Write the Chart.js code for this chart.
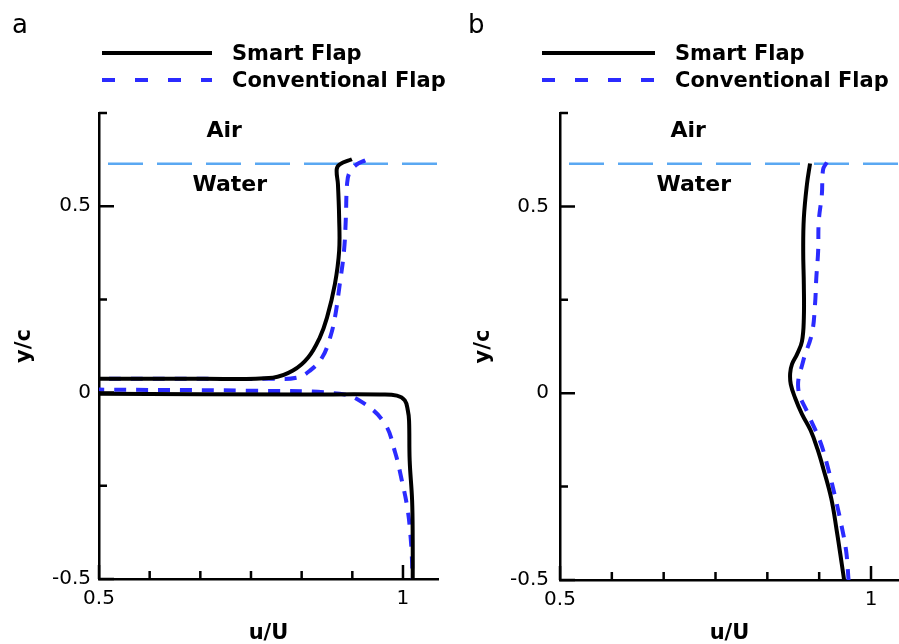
<!DOCTYPE html>
<html>
<head>
<meta charset="utf-8">
<script src="https://cdn.jsdelivr.net/npm/chart.js@4.4.1/dist/chart.umd.min.js"></script>
<style>
  body { margin: 0; background: #fff; }
  .panel { position: absolute; top: 0; height: 644px; }
  #wrapA { left: 0; width: 450px; }
  #wrapB { left: 450px; width: 449px; }
</style>
</head>
<body>
<div class="panel" id="wrapA"><canvas id="chartA"></canvas></div>
<div class="panel" id="wrapB"><canvas id="chartB"></canvas></div>
<script>
// velocity profiles: u/U (x) against y/c (y)
// panel a (values below u/U = 0.5 are the wake, outside the axis range)
const smartA_u = [0.916, 0.896, 0.891, 0.893, 0.895, 0.895, 0.888, 0.875, 0.863, 0.844, 0.819, 0.786, 0.666, 0.5, 0.40, 0.35, 0.40, 0.5, 0.831, 0.962, 0.990, 1.003, 1.008, 1.010, 1.011, 1.015, 1.016, 1.016];
const smartA_y = [0.626, 0.612, 0.599, 0.559, 0.468, 0.380, 0.291, 0.201, 0.147, 0.094, 0.059, 0.040, 0.037, 0.037, 0.032, 0.017, 0.000, -0.003, -0.005, -0.005, -0.008, -0.021, -0.048, -0.075, -0.182, -0.289, -0.396, -0.503];
const convA_u = [0.938, 0.924, 0.912, 0.908, 0.906, 0.903, 0.896, 0.888, 0.880, 0.867, 0.847, 0.826, 0.781, 0.5, 0.40, 0.35, 0.40, 0.5, 0.748, 0.896, 0.934, 0.970, 0.987, 0.998, 1.007, 1.012, 1.015, 1.015];
const convA_y = [0.623, 0.612, 0.590, 0.559, 0.468, 0.380, 0.291, 0.201, 0.147, 0.094, 0.059, 0.040, 0.037, 0.037, 0.032, 0.020, 0.010, 0.008, 0.005, -0.003, -0.027, -0.083, -0.160, -0.235, -0.307, -0.377, -0.457, -0.503];

// panel b
const smartB_u = [0.902, 0.897, 0.892, 0.891, 0.892, 0.892, 0.889, 0.881, 0.873, 0.870, 0.871, 0.878, 0.889, 0.903, 0.914, 0.923, 0.936, 0.945, 0.953, 0.957];
const smartB_y = [0.615, 0.559, 0.468, 0.380, 0.291, 0.200, 0.139, 0.104, 0.078, 0.053, 0.024, -0.013, -0.056, -0.100, -0.150, -0.200, -0.281, -0.369, -0.457, -0.503];
const convB_u = [0.929, 0.923, 0.921, 0.916, 0.915, 0.912, 0.910, 0.905, 0.891, 0.883, 0.899, 0.918, 0.931, 0.942, 0.952, 0.960, 0.964];
const convB_y = [0.618, 0.599, 0.532, 0.460, 0.380, 0.307, 0.238, 0.160, 0.086, 0.013, -0.056, -0.128, -0.201, -0.275, -0.350, -0.422, -0.503];

// free surface level and axis ranges
const interfaceY = 0.614;
const xMin = 0.5;
const xMaxA = 1.0576;
const xMaxB = 1.045;
const yMin = -0.5;
const yMax = 0.75;
const seriesNames = ["Smart Flap", "Conventional Flap"];
const xLabels = { 0.5: "0.5", 1: "1" };
const yLabels = { 0.5: "0.5", 0: "0", "-0.5": "-0.5" };

const FONT = '"DejaVu Sans", sans-serif';
Chart.defaults.font.family = FONT;
Chart.defaults.color = "#000";

function pairs(us, ys) {
    return us.map((u, i) => ({ x: u, y: ys[i] }));
}

function tickName(table, v) {
    for (const k in table) {
        if (Math.abs(v - Number(k)) < 1e-6) return table[k];
    }
    return "";
}

// ticks pointing into the plot, major where a label is shown
const inwardTicks = {
    id: "inwardTicks",
    afterDatasetsDraw(chart) {
        const { ctx, chartArea } = chart;
        const xs = chart.scales.x, ys = chart.scales.y;
        ctx.save();
        ctx.strokeStyle = "#000";
        ctx.lineWidth = 2.5;
        ctx.beginPath();
        xs.ticks.forEach(t => {
            const px = xs.getPixelForValue(t.value);
            const len = t.label ? 14 : 8;
            ctx.moveTo(px, chartArea.bottom);
            ctx.lineTo(px, chartArea.bottom - len);
        });
        ys.ticks.forEach(t => {
            const py = ys.getPixelForValue(t.value);
            const len = t.label ? 15 : 8;
            ctx.moveTo(chartArea.left, py);
            ctx.lineTo(chartArea.left + len, py);
        });
        ctx.stroke();
        ctx.restore();
    }
};

// panel letter, Air / Water labels and the legend above the plot
const panelText = {
    id: "panelText",
    afterDraw(chart, args, o) {
        const { ctx } = chart;
        const xs = chart.scales.x, ys = chart.scales.y;
        ctx.save();
        ctx.fillStyle = "#000";
        ctx.font = "26px " + FONT;
        ctx.textAlign = "left";
        ctx.textBaseline = "alphabetic";
        ctx.fillText(o.letter, o.letterX, 33);

        ctx.font = "bold 22px " + FONT;
        ctx.textAlign = "center";
        ctx.textBaseline = "middle";
        o.phases.forEach(p => {
            ctx.fillText(p.text, xs.getPixelForValue(p.u), ys.getPixelForValue(p.y));
        });

        const sets = chart.data.datasets.filter(d => !d.noLegend);
        sets.forEach((d, i) => {
            const y = 53 + i * 27;
            ctx.strokeStyle = d.borderColor;
            ctx.lineWidth = 4;
            ctx.setLineDash(d.legendDash || []);
            ctx.beginPath();
            ctx.moveTo(o.lineX0, y);
            ctx.lineTo(o.lineX1, y);
            ctx.stroke();
            ctx.setLineDash([]);
            ctx.font = "bold 21px " + FONT;
            ctx.textAlign = "left";
            ctx.fillText(d.label, o.textX, y + 1.5);
        });
        ctx.restore();
    }
};

function makeChart(id, sU, sY, cU, cY, xMax, opt) {
    return new Chart(document.getElementById(id), {
        type: "line",
        data: {
            datasets: [
                {
                    label: seriesNames[0],
                    data: pairs(sU, sY),
                    borderColor: "#000000",
                    borderWidth: 4,
                    pointRadius: 0,
                    tension: 0.4,
                    fill: false
                },
                {
                    label: seriesNames[1],
                    data: pairs(cU, cY),
                    borderColor: "#2b2bff",
                    borderWidth: 4,
                    borderDash: [12, 10],
                    legendDash: [13, 20],
                    pointRadius: 0,
                    tension: 0.4,
                    fill: false
                },
                {
                    label: "Interface",
                    noLegend: true,
                    data: [{ x: xMin, y: interfaceY }, { x: xMax, y: interfaceY }],
                    borderColor: "#5aa8f2",
                    borderWidth: 2.5,
                    borderDash: [35, 14],
                    borderDashOffset: 40,
                    pointRadius: 0,
                    fill: false
                }
            ]
        },
        options: {
            responsive: true,
            maintainAspectRatio: false,
            animation: false,
            events: [],
            layout: { padding: { left: 0, top: 113, right: opt.rightPad, bottom: 0 } },
            scales: {
                x: {
                    type: "linear",
                    min: xMin,
                    max: xMax,
                    afterFit: s => { s.height = opt.xHeight; },
                    grid: { display: true, drawOnChartArea: false, drawTicks: false },
                    border: { display: true, color: "#000", width: 2.5 },
                    ticks: {
                        stepSize: 0.5 / 6,
                        includeBounds: false,
                        autoSkip: false,
                        maxRotation: 0,
                        padding: 8,
                        font: { size: 20 },
                        callback: v => tickName(xLabels, v)
                    },
                    title: {
                        display: true,
                        text: "u/U",
                        font: { size: 21, weight: "bold", lineHeight: 1 },
                        padding: { top: 0, bottom: 0 }
                    }
                },
                y: {
                    type: "linear",
                    min: yMin,
                    max: yMax,
                    afterFit: s => { s.width = opt.yWidth; },
                    grid: { display: true, drawOnChartArea: false, drawTicks: false },
                    border: { display: true, color: "#000", width: 2.5 },
                    ticks: {
                        stepSize: 0.25,
                        autoSkip: false,
                        padding: opt.yTickPad,
                        font: { size: 20 },
                        callback: v => tickName(yLabels, v)
                    },
                    title: {
                        display: true,
                        text: "y/c",
                        font: { size: 21, weight: "bold", lineHeight: 1 },
                        padding: { top: opt.yTitlePad, bottom: 0 }
                    }
                }
            },
            plugins: {
                legend: { display: false },
                tooltip: { enabled: false },
                panelText: {
                    letter: opt.letter,
                    letterX: opt.letterX,
                    lineX0: opt.lineX0,
                    lineX1: opt.lineX1,
                    textX: opt.textX,
                    phases: [
                        { text: "Air", u: 0.706, y: 0.702 },
                        { text: "Water", u: 0.715, y: 0.557 }
                    ]
                }
            }
        },
        plugins: [inwardTicks, panelText]
    });
}

makeChart("chartA", smartA_u, smartA_y, convA_u, convA_y, xMaxA, {
    rightPad: 12, xHeight: 65, yWidth: 99, yTickPad: 8, yTitlePad: 14.5,
    letter: "a", letterX: 12, lineX0: 102, lineX1: 212, textX: 232
});
makeChart("chartB", smartB_u, smartB_y, convB_u, convB_y, xMaxB, {
    rightPad: 0, xHeight: 64, yWidth: 110, yTickPad: 11, yTitlePad: 23.5,
    letter: "b", letterX: 18, lineX0: 92, lineX1: 205, textX: 225
});
</script>
</body>
</html>
